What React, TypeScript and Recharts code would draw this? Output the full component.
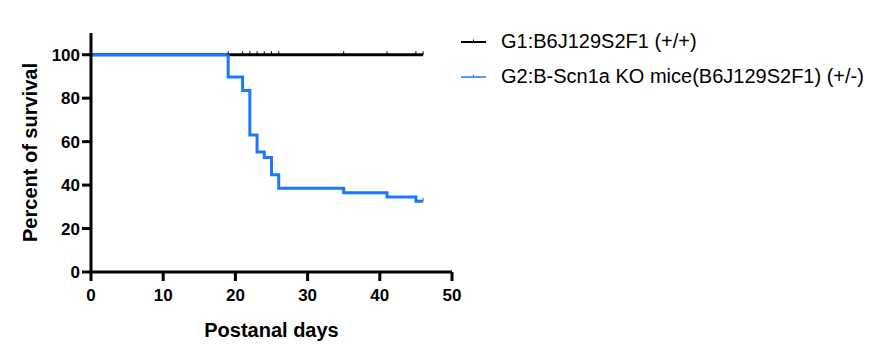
import { LineChart, Line, XAxis, YAxis } from "recharts";

const xTicks = [0, 10, 20, 30, 40, 50];
const yTicks = [0, 20, 40, 60, 80, 100];

// G1 wild type: stays at 100 %, censored marks at these days
const g1Days = [0, 19, 21, 22, 23, 24, 25, 26, 35, 41, 45, 46];
const g1Survival = [100, 100, 100, 100, 100, 100, 100, 100, 100, 100, 100, 100];
const g1Censored = [false, true, true, true, true, true, true, true, true, true, true, true];

// G2 KO: step curve
const g2Days = [0, 19, 21, 22, 23, 24, 25, 26, 35, 41, 45, 46];
const g2Survival = [100, 89.7, 83.5, 63.1, 55.2, 52.7, 44.8, 38.6, 36.5, 34.5, 32.6, 32.6];
const g2Censored = [false, false, false, false, false, false, false, false, false, false, false, true];

const BLUE = "#1a78ff";
const FONT = "'Liberation Sans', Arial, sans-serif";

const g1Data = g1Days.map((d, i) => ({ day: d, value: g1Survival[i], censored: g1Censored[i] }));
const g2Data = g2Days.map((d, i) => ({ day: d, value: g2Survival[i], censored: g2Censored[i] }));

function CensorTick(props: any) {
  const { cx, cy, payload, stroke } = props;
  if (!payload?.censored || cx == null) return <g key={`n-${cx}`} />;
  return <line key={`c-${cx}`} x1={cx} x2={cx} y1={cy - 3.5} y2={cy} stroke={stroke} strokeWidth={1} />;
}

function YTitle(props: any) {
  const vb = props.viewBox || {};
  const cx = (vb.x ?? 0) + 30;
  const cy = (vb.y ?? 0) + (vb.height ?? 0) / 2;
  return (
    <text
      x={cx}
      y={cy}
      transform={`rotate(-90, ${cx}, ${cy})`}
      textAnchor="middle"
      dominantBaseline="central"
      fill="#000"
      fontSize={20}
      fontWeight={700}
      fontFamily={FONT}
    >
      Percent of survival
    </text>
  );
}

function LegendRow({ color, width, label }: { color: string; width: number; label: string }) {
  return (
    <div style={{ display: "flex", alignItems: "center", height: 35 }}>
      <svg width={40} height={10} style={{ flex: "none" }}>
        <line x1={0} x2={25} y1={5} y2={5} stroke={color} strokeWidth={width} />
        <line x1={12.5} x2={12.5} y1={2.5} y2={5} stroke={color} strokeWidth={1} />
      </svg>
      <span style={{ whiteSpace: "nowrap" }}>{label}</span>
    </div>
  );
}

export default function App() {
  return (
    <div style={{ position: "absolute", left: 0, top: 0, width: 880, height: 356, background: "#fff", fontFamily: FONT }}>
      <LineChart width={880} height={356} margin={{ top: 33, right: 428, left: 0, bottom: 0 }}>
        <XAxis
          type="number"
          dataKey="day"
          domain={[0, 50]}
          ticks={xTicks}
          allowDuplicatedCategory={false}
          height={84}
          stroke="#000"
          axisLine={{ strokeWidth: 3 }}
          tickLine={{ strokeWidth: 3 }}
          tickSize={9}
          tick={{ fill: "#000", fontSize: 17, fontWeight: 700, fontFamily: FONT, dy: 6 }}
          label={{ value: "Postanal days", position: "insideBottom", offset: 19, fill: "#000", fontSize: 20, fontWeight: 700, fontFamily: FONT }}
        />
        <YAxis
          type="number"
          dataKey="value"
          domain={[0, 110]}
          ticks={yTicks}
          width={91}
          stroke="#000"
          axisLine={{ strokeWidth: 3 }}
          tickLine={{ strokeWidth: 3 }}
          tickSize={9}
          tick={{ fill: "#000", fontSize: 17, fontWeight: 700, fontFamily: FONT }}
          label={<YTitle />}
        />
        <Line
          data={g1Data}
          dataKey="value"
          type="stepAfter"
          stroke="#000"
          strokeWidth={3}
          dot={<CensorTick />}
          activeDot={false}
          isAnimationActive={false}
        />
        <Line
          data={g2Data}
          dataKey="value"
          type="stepAfter"
          stroke={BLUE}
          strokeWidth={3}
          dot={<CensorTick />}
          activeDot={false}
          isAnimationActive={false}
        />
      </LineChart>
      <div style={{ position: "absolute", left: 461, top: 24, fontSize: 20, color: "#000" }}>
        <LegendRow color="#000" width={2} label="G1:B6J129S2F1 (+/+)" />
        <LegendRow color={BLUE} width={1.5} label="G2:B-Scn1a KO mice(B6J129S2F1) (+/-)" />
      </div>
    </div>
  );
}
